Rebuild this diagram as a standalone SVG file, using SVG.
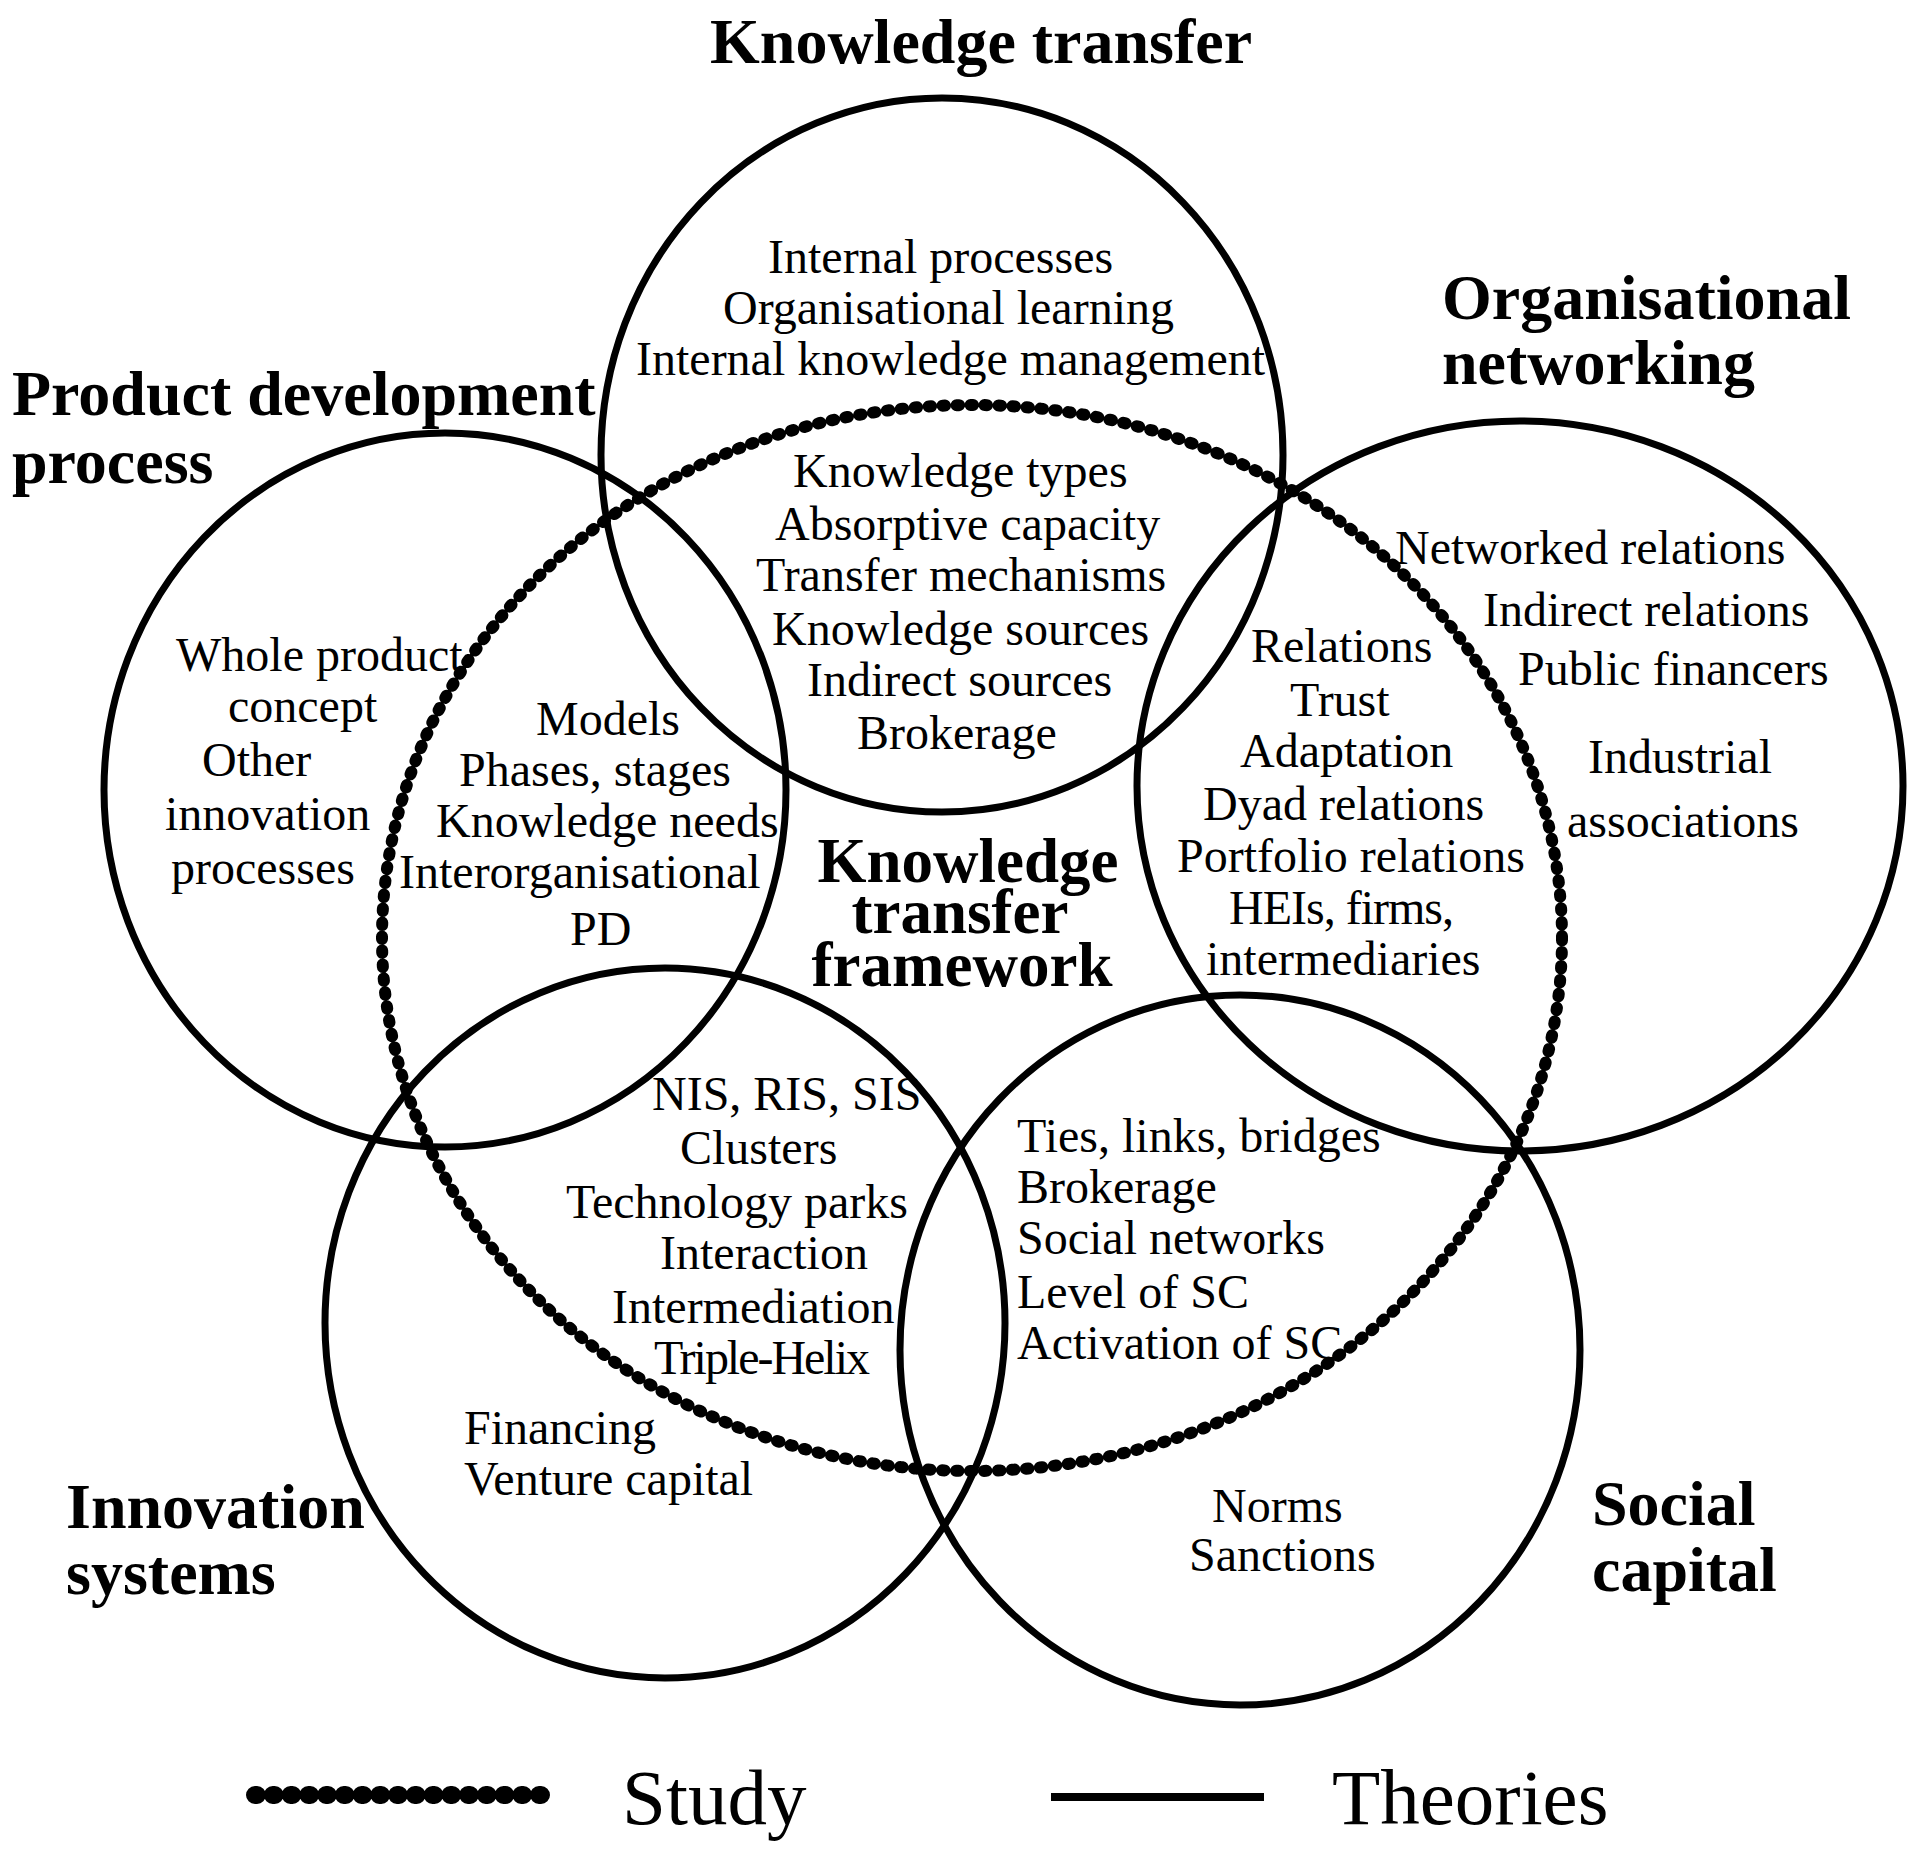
<svg xmlns="http://www.w3.org/2000/svg" width="1918" height="1872" viewBox="0 0 1918 1872">
<style>
.c{fill:none;stroke:#000;stroke-width:7}
.s{fill:none;stroke:#000;stroke-width:12;stroke-dasharray:2.5 11.5;stroke-linecap:round}
text{font-family:"Liberation Serif","Times New Roman",serif;fill:#000}
.t{font-size:48px}
.h{font-size:64px;font-weight:bold}
.m{font-size:63px;font-weight:bold;text-anchor:middle}
.lg{font-size:79px}
</style>
<rect width="1918" height="1872" fill="#fff"/>
<g id="knowledge-transfer">
<ellipse class="c" cx="942" cy="455" rx="341" ry="357"/>
<text class="h" x="710" y="63">Knowledge transfer</text>
<text class="t" x="768" y="273">Internal processes</text>
<text class="t" x="723" y="324">Organisational learning</text>
<text class="t" x="636" y="375">Internal knowledge management</text>
<text class="t" x="793" y="487">Knowledge types</text>
<text class="t" x="775" y="540">Absorptive capacity</text>
<text class="t" x="756" y="591">Transfer mechanisms</text>
<text class="t" x="772" y="645">Knowledge sources</text>
<text class="t" x="807" y="696">Indirect sources</text>
<text class="t" x="857" y="749">Brokerage</text>
</g>
<g id="product-development">
<ellipse class="c" cx="445" cy="790" rx="341" ry="357"/>
<text class="h" x="12" y="415">Product development</text>
<text class="h" x="12" y="483">process</text>
<text class="t" x="176" y="671">Whole product</text>
<text class="t" x="228" y="722">concept</text>
<text class="t" x="202" y="776">Other</text>
<text class="t" x="165" y="830">innovation</text>
<text class="t" x="171" y="884">processes</text>
<text class="t" x="536" y="735">Models</text>
<text class="t" x="459" y="786">Phases, stages</text>
<text class="t" x="436" y="837">Knowledge needs</text>
<text class="t" x="399" y="888">Interorganisational</text>
<text class="t" x="570" y="945">PD</text>
</g>
<g id="organisational-networking">
<ellipse class="c" cx="1520" cy="786" rx="383" ry="365"/>
<text class="h" x="1442" y="319">Organisational</text>
<text class="h" x="1442" y="384">networking</text>
<text class="t" x="1395" y="564">Networked relations</text>
<text class="t" x="1483" y="626">Indirect relations</text>
<text class="t" x="1518" y="685">Public financers</text>
<text class="t" x="1588" y="773">Industrial</text>
<text class="t" x="1567" y="837">associations</text>
<text class="t" x="1251" y="662">Relations</text>
<text class="t" x="1290" y="716">Trust</text>
<text class="t" x="1240" y="767">Adaptation</text>
<text class="t" x="1203" y="820">Dyad relations</text>
<text class="t" x="1177" y="872">Portfolio relations</text>
<text class="t" x="1229" y="924" textLength="225" lengthAdjust="spacing">HEIs, firms,</text>
<text class="t" x="1206" y="975">intermediaries</text>
</g>
<g id="innovation-systems">
<ellipse class="c" cx="665" cy="1323" rx="340" ry="355"/>
<text class="h" x="66" y="1528">Innovation</text>
<text class="h" x="66" y="1594">systems</text>
<text class="t" x="652" y="1110">NIS, RIS, SIS</text>
<text class="t" x="680" y="1164">Clusters</text>
<text class="t" x="566" y="1218">Technology parks</text>
<text class="t" x="660" y="1269">Interaction</text>
<text class="t" x="612" y="1323">Intermediation</text>
<text class="t" x="654" y="1374" textLength="216" lengthAdjust="spacing">Triple-Helix</text>
<text class="t" x="464" y="1444">Financing</text>
<text class="t" x="464" y="1495">Venture capital</text>
</g>
<g id="social-capital">
<ellipse class="c" cx="1240" cy="1350" rx="340" ry="355"/>
<text class="h" x="1592" y="1525">Social</text>
<text class="h" x="1592" y="1591">capital</text>
<text class="t" x="1017" y="1152">Ties, links, bridges</text>
<text class="t" x="1017" y="1203">Brokerage</text>
<text class="t" x="1017" y="1254">Social networks</text>
<text class="t" x="1017" y="1308">Level of SC</text>
<text class="t" x="1017" y="1359">Activation of SC</text>
<text class="t" x="1212" y="1522">Norms</text>
<text class="t" x="1189" y="1571">Sanctions</text>
</g>
<g id="study-framework">
<ellipse class="s" cx="972" cy="938" rx="590" ry="533"/>
<text class="m" x="968" y="882">Knowledge</text>
<text class="m" x="960" y="933">transfer</text>
<text class="m" x="962" y="986">framework</text>
</g>
<g id="legend">
<line x1="255" y1="1795" x2="541" y2="1795" stroke="#000" stroke-width="18" stroke-linecap="round" stroke-dasharray="2 15.75"/>
<text class="lg" x="622" y="1824">Study</text>
<line x1="1051" y1="1797" x2="1264" y2="1797" stroke="#000" stroke-width="8"/>
<text class="lg" x="1332" y="1824">Theories</text>
</g>
</svg>
